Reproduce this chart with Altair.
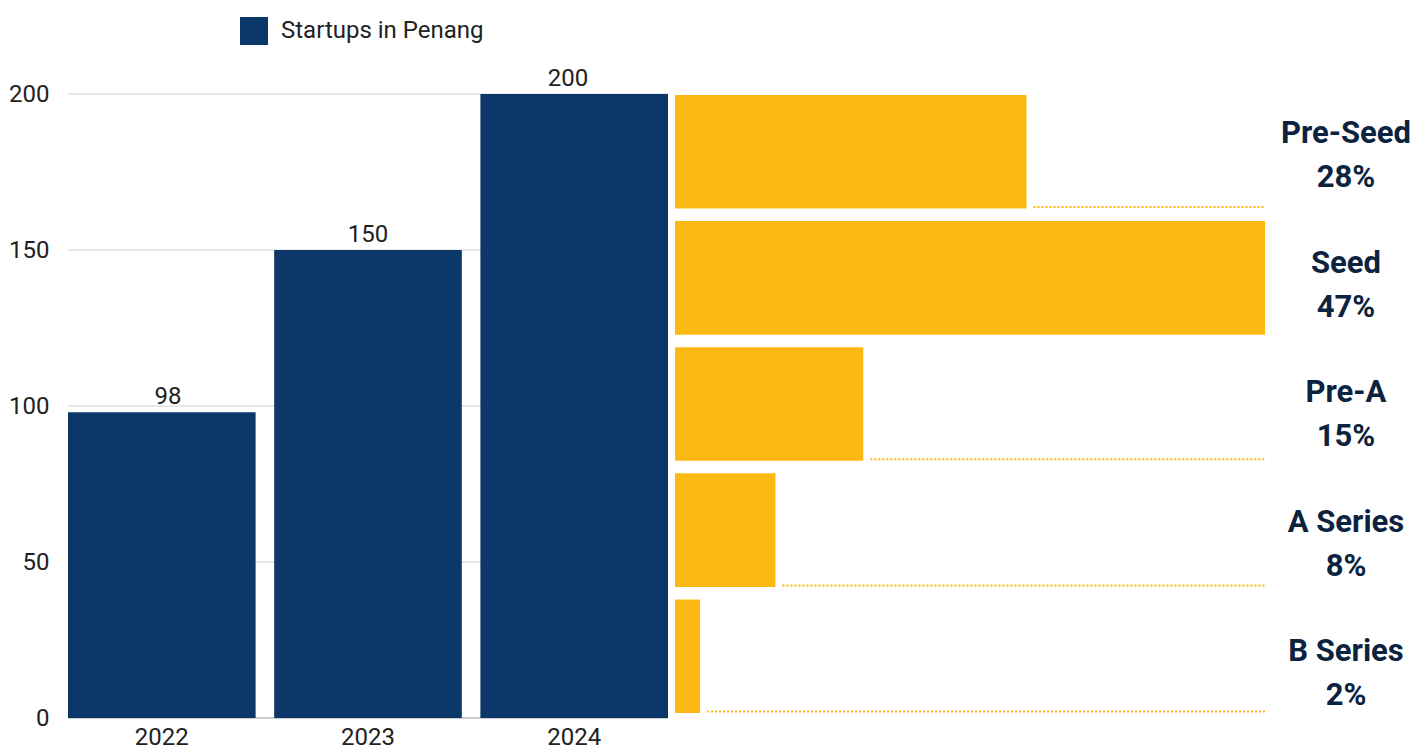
import altair as alt
import pandas as pd

# ---- data ----
years = ["2022", "2023", "2024"]
startups = [98, 150, 200]
series_name = "Startups in Penang"

stages = ["Pre-Seed", "Seed", "Pre-A", "A Series", "B Series"]
stage_pct = [28, 47, 15, 8, 2]
stage_pct_labels = ["28%", "47%", "15%", "8%", "2%"]

y_ticks = [0, 50, 100, 150, 200]

# ---- styles ----
NAVY = "#0B3868"
YELLOW = "#FDB913"
LABEL_NAVY = "#0C2340"
TEXT = "#222222"
FONT = "Roboto"

bars_df = pd.DataFrame({"year": years, "count": startups, "series": [series_name] * len(years)})
stage_df = pd.DataFrame({"stage": stages, "pct": stage_pct, "pct_label": stage_pct_labels})
grid_df = pd.DataFrame({"tick": y_ticks})

x_band = alt.Scale(domain=years, range=[0, 600], paddingInner=0.09, paddingOuter=0)
y_count_scale = alt.Scale(domain=[0, 200])
y_stage_scale = alt.Scale(domain=stages, range=[1, 619], paddingInner=0.1, paddingOuter=0)
y_label_scale = alt.Scale(domain=stages, type="point", range=[40, 558], padding=0)
x_pct_scale = alt.Scale(domain=[0, 47], range=[607, 1197])

grid = alt.Chart(grid_df).mark_rule(color="#d0d0d0", strokeWidth=1).encode(
    y=alt.Y("tick:Q", scale=y_count_scale, axis=None),
    x=alt.value(0),
    x2=alt.value(600),
).transform_filter("datum.tick > 0")

baseline = alt.Chart(grid_df).mark_rule(color="#999999", strokeWidth=1).encode(
    y=alt.Y("tick:Q", scale=y_count_scale, axis=None),
    x=alt.value(0),
    x2=alt.value(600),
).transform_filter("datum.tick == 0")

bars = alt.Chart(bars_df).mark_bar().encode(
    x=alt.X("year:N", sort=years, scale=x_band,
            axis=alt.Axis(title=None, labelAngle=0, ticks=False, domain=False,
                          labelFontSize=24, labelPadding=7, labelColor=TEXT, labelFont=FONT)),
    y=alt.Y("count:Q", scale=y_count_scale,
            axis=alt.Axis(title=None, values=y_ticks, grid=False, ticks=False, domain=False,
                          labelFontSize=24, labelPadding=19, labelColor=TEXT, labelFont=FONT)),
    color=alt.Color("series:N", scale=alt.Scale(range=[NAVY]),
                    legend=alt.Legend(title=None, orient="none", legendX=172, legendY=-77,
                                      symbolType="square", symbolSize=784, symbolStrokeWidth=0,
                                      labelFontSize=24, labelFont=FONT, labelColor=TEXT,
                                      labelOffset=13, labelLimit=0, padding=0)),
)

bar_labels = alt.Chart(bars_df).mark_text(fontSize=24, font=FONT, color=TEXT, dy=-8,
                                          baseline="alphabetic").encode(
    x=alt.X("year:N", sort=years, scale=x_band, axis=None),
    y=alt.Y("count:Q", scale=y_count_scale, axis=None),
    text=alt.Text("count:Q"),
)

stage_bars = alt.Chart(stage_df).mark_bar(color=YELLOW).encode(
    x=alt.X("pct:Q", scale=x_pct_scale, axis=None),
    y=alt.Y("stage:N", sort=stages, scale=y_stage_scale, axis=None),
)

dots = alt.Chart(stage_df).transform_joinaggregate(
    maxpct="max(pct)"
).transform_filter("datum.pct < datum.maxpct").mark_rule(
    color=YELLOW, strokeWidth=2, strokeDash=[2, 2], xOffset=7, yOffset=-1.5
).encode(
    x=alt.X("pct:Q", scale=x_pct_scale, axis=None),
    x2=alt.X2("maxpct:Q"),
    y=alt.Y("stage:N", sort=stages, scale=y_stage_scale, axis=None, bandPosition=1),
)

name_labels = alt.Chart(stage_df).mark_text(fontSize=31, fontWeight="bold", font=FONT,
                                            color=LABEL_NAVY, align="center", baseline="middle").encode(
    x=alt.value(1278),
    y=alt.Y("stage:N", sort=stages, scale=y_label_scale, axis=None),
    text="stage:N",
)

pct_labels = alt.Chart(stage_df).mark_text(fontSize=31, fontWeight="bold", font=FONT,
                                           color=LABEL_NAVY, align="center", baseline="middle",
                                           dy=44).encode(
    x=alt.value(1278),
    y=alt.Y("stage:N", sort=stages, scale=y_label_scale, axis=None),
    text="pct_label:N",
)

chart = alt.layer(
    grid, baseline, bars, bar_labels, stage_bars, dots, name_labels, pct_labels
).resolve_scale(
    x="independent", y="independent", color="independent"
).properties(
    width=1343,
    height=624,
    autosize=alt.AutoSizeParams(type="none"),
    padding={"left": 60, "top": 86, "right": 0, "bottom": 33},
    background="white",
).configure_view(stroke=None)

chart.save("out.html", embed_options={"renderer": "svg", "actions": False})
